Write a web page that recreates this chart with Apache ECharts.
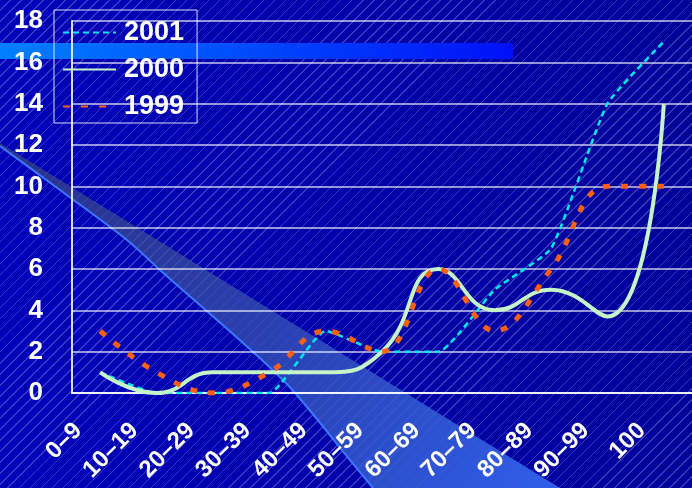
<!DOCTYPE html>
<html>
<head>
<meta charset="utf-8">
<script src="https://cdn.jsdelivr.net/npm/echarts@6/dist/echarts.min.js"></script>
<style>
  html, body { margin: 0; padding: 0; }
  #chart_one {
    width: 692px; height: 488px;
    background:
      repeating-linear-gradient(135deg, rgba(255,255,255,0) 0px, rgba(255,255,255,0) 6.8px, rgba(200,200,255,0.28) 6.8px, rgba(200,200,255,0.28) 7.8px),
      linear-gradient(90deg, #0000ba, #00009a);
  }
</style>
</head>
<body>
<div id="chart_one"></div>
<script>
    var categories = ['0–9', '10–19', '20–29', '30–39', '40–49', '50–59', '60–69', '70–79', '80–89', '90–99', '100'];
    var values2001 = [1, 0, 0, 0, 3, 2, 2, 5, 7, 14, 17];
    var values2000 = [1, 0, 1, 1, 1, 2, 6, 4, 5, 3.7, 14];
    var values1999 = [3, 1, 0, 1, 3, 2, 6, 3, 6, 10, 10];

    var theDom = document.getElementById('chart_one');
    var myChart = echarts.init(theDom);
    var font = '"Liberation Sans", Arial, sans-serif';
    var option;

option = {
    backgroundColor: 'transparent',
    textStyle: { fontFamily: font },
    graphic: [
        {
            // diagonal wedge
            type: 'polygon',
            z: -10,
            silent: true,
            shape: {
                points: [[0, 143], [560, 488], [373, 488], [350, 460], [283, 380], [160, 270], [127, 240], [60, 190], [0, 146]]
            },
            style: {
                fill: new echarts.graphic.LinearGradient(0, 0, 1, 1, [
                    { offset: 0, color: 'rgba(70, 80, 110, 0.6)' },
                    { offset: 0.5, color: 'rgba(55, 85, 180, 0.75)' },
                    { offset: 1, color: 'rgba(50, 100, 240, 0.95)' }
                ])
            }
        },
        {
            type: 'polyline',
            z: -9,
            silent: true,
            shape: {
                points: [[0, 146], [60, 190], [127, 240], [160, 270], [283, 380], [350, 460], [373, 488]],
                smooth: 0.3
            },
            style: { stroke: '#3a78ff', lineWidth: 2, fill: null }
        },
        {
            // top band
            type: 'rect',
            z: -8,
            silent: true,
            shape: { x: 0, y: 43, width: 513, height: 16 },
            style: {
                fill: new echarts.graphic.LinearGradient(0, 0, 1, 0, [
                    { offset: 0, color: '#0080ff' },
                    { offset: 1, color: '#0010f8' }
                ])
            }
        }
    ],
    legend: {
        orient: 'vertical',
        left: 54,
        top: 10,
        padding: [9, 13, 3, 8],
        itemGap: 10,
        itemWidth: 53,
        itemHeight: 26,
        borderColor: 'rgba(255,255,255,0.85)',
        borderWidth: 1,
        itemStyle: { opacity: 0 },
        data: ['2001', '2000', '1999'],
        textStyle: {
            color: '#fff',
            fontSize: 27,
            fontWeight: 'bold',
            fontFamily: font,
            padding: [0, 0, 0, 3]
        }
    },
    grid: {
        left: 72,
        right: -3,
        top: 21,
        bottom: 95,
        containLabel: false
    },
    xAxis: [
        {
            type: 'category',
            boundaryGap: true,
            data: categories,
            axisLine: { lineStyle: { color: 'rgba(255,255,255,0.85)', width: 2 } },
            axisTick: { inside: true, length: 9, lineStyle: { color: 'rgba(255,255,255,0.85)', width: 1.5 } },
            axisLabel: {
                interval: 0,
                rotate: 45,
                margin: 12,
                padding: [0, 31, 0, 0],
                color: '#fff',
                fontSize: 24,
                fontWeight: 'bold',
                fontFamily: font
            },
            splitLine: { show: false }
        }
    ],
    yAxis: [
        {
            type: 'value',
            min: 0,
            max: 18,
            interval: 2,
            axisLine: { show: true, lineStyle: { color: 'rgba(255,255,255,0.85)', width: 2 } },
            axisTick: { show: false },
            axisLabel: {
                margin: 29,
                padding: [5, 0, 0, 0],
                color: '#fff',
                fontSize: 26,
                fontWeight: 'bold',
                fontFamily: font
            },
            splitLine: { lineStyle: { color: 'rgba(255,255,255,0.78)', width: 1.5 } }
        }
    ],
    series: [
        {
            name: '2001',
            type: 'line',
            smooth: 0.15,
            showSymbol: false,
            symbol: 'none',
            lineStyle: { color: '#00e8f0', width: 2.5, type: [6, 4] },
            itemStyle: { color: '#00e8f0' },
            z: 3,
            data: values2001
        },
        {
            name: '2000',
            type: 'line',
            smooth: 0.5,
            showSymbol: false,
            symbol: 'none',
            lineStyle: { color: '#c4f4c8', width: 4 },
            itemStyle: { color: '#c4f4c8' },
            z: 4,
            data: values2000
        },
        {
            name: '1999',
            type: 'line',
            smooth: 0.4,
            showSymbol: false,
            symbol: 'none',
            lineStyle: { color: '#ff6010', width: 5, type: [7, 11] },
            itemStyle: { color: '#ff6010' },
            z: 5,
            data: values1999
        }
    ]
};

myChart.setOption(option);
window.onresize = function() {
  myChart.resize();
};
</script>
</body>
</html>
